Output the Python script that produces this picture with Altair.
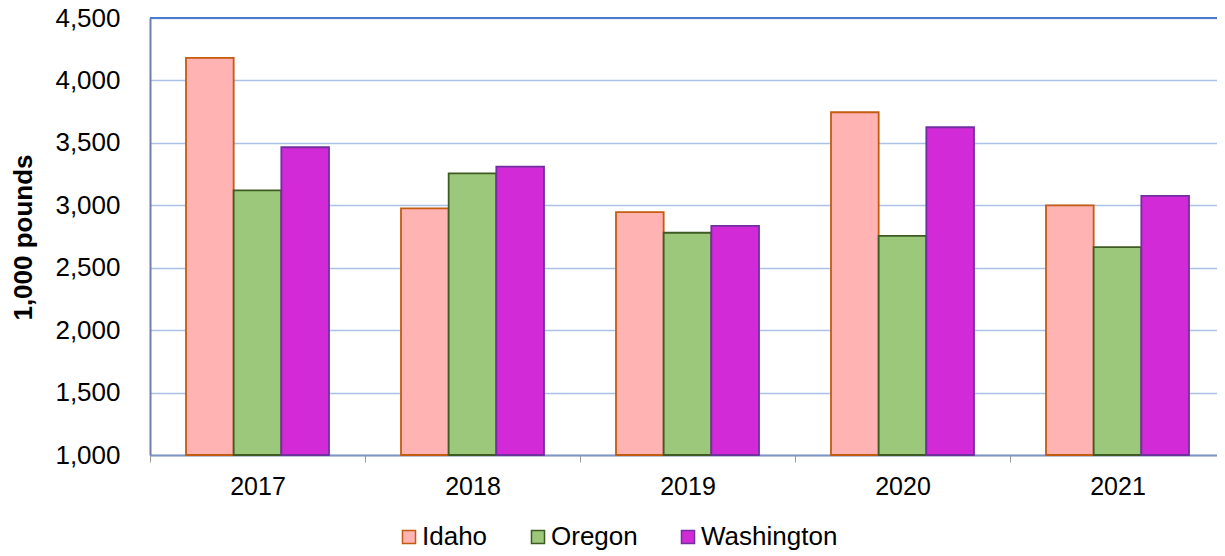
import altair as alt
import pandas as pd

years = ["2017", "2018", "2019", "2020", "2021"]
states = ["Idaho", "Oregon", "Washington"]
idaho = [4180, 2975, 2945, 3745, 3000]
oregon = [3120, 3255, 2780, 2755, 2665]
washington = [3465, 3310, 2835, 3625, 3075]

fills = ["#FFB3B3", "#9BC87A", "#D22AD6"]
strokes = ["#C55A11", "#3E5B23", "#7030A0"]

rows = []
for i, y in enumerate(years):
    for s, vals in zip(states, [idaho, oregon, washington]):
        rows.append({"year": y, "state": s, "value": vals[i]})
df = pd.DataFrame(rows)

FONT = "Liberation Sans"
W = 1067
H = 437

legend_def = alt.Legend(
    title=None, orient="none", direction="horizontal",
    legendX=246, legendY=506,
    symbolType="square", symbolSize=170, symbolStrokeWidth=1.5,
    labelFontSize=26, labelFont=FONT, labelColor="#000000",
    labelOffset=0, columnPadding=37, symbolOpacity=1,
)

x_enc = alt.X(
    "year:N", sort=years, title=None,
    scale=alt.Scale(paddingInner=0, paddingOuter=0, range=[0, 1075]),
    axis=alt.Axis(
        labelFontSize=25, labelFont=FONT, labelColor="#000000", labelAngle=0,
        tickBand="extent", ticks=True, tickSize=7, tickColor="#9A9A9A",
        domainColor="#8096C4", domainWidth=2, labelPadding=12, grid=False,
    ),
)

bars = alt.Chart(df).mark_bar(strokeWidth=1.8, opacity=1).encode(
    x=x_enc,
    xOffset=alt.XOffset("state:N", sort=states,
                        scale=alt.Scale(paddingInner=0, paddingOuter=0.755)),
    y=alt.Y(
        "value:Q", title="1,000 pounds",
        scale=alt.Scale(domain=[1000, 4500], zero=False, nice=False),
        axis=alt.Axis(
            values=[1000, 1500, 2000, 2500, 3000, 3500, 4000, 4500],
            format=",.0f", labelFontSize=26, labelFont=FONT, labelColor="#000000",
            ticks=False, tickSize=0, labelPadding=30,
            domainColor="#6F80A8", domainWidth=2,
            grid=True, gridColor="#ABC1E5", gridWidth=1.5,
            titleFont=FONT, titleFontSize=26, titleFontWeight="bold",
            titleColor="#000000", titleX=-127, titleY=219,
            titleAngle=270, titleAlign="center", titleBaseline="middle",
        ),
    ),
    y2=alt.datum(1000),
    color=alt.Color("state:N", sort=states,
                    scale=alt.Scale(domain=states, range=fills), legend=legend_def),
    stroke=alt.Stroke("state:N", sort=states,
                      scale=alt.Scale(domain=states, range=strokes), legend=legend_def),
)

top_rule = alt.Chart(pd.DataFrame({"a": [0]})).mark_rule(
    color="#4A7CCB", strokeWidth=2
).encode(y=alt.value(0), x=alt.value(0), x2=alt.value(1075))

chart = alt.layer(bars, top_rule).properties(
    width=W, height=H,
    autosize=alt.AutoSizeParams(type="none"),
    padding={"left": 142, "top": 10, "right": 0, "bottom": 95},
).configure_view(stroke=None).configure(background="#FFFFFF")

chart.save("out.html", embed_options={"renderer": "svg", "actions": False})
